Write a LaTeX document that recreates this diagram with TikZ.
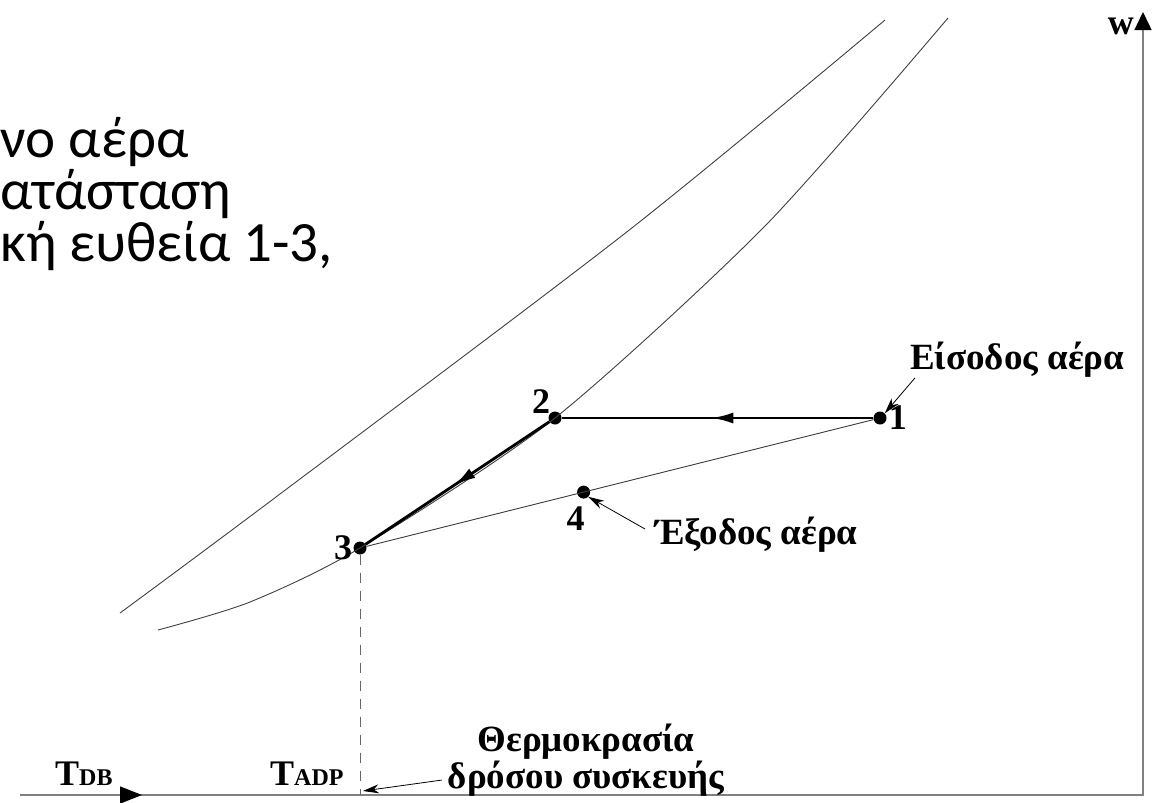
\documentclass[tikz,border=0pt]{standalone}
\usepackage{fontspec}
\setmainfont{Liberation Serif}
\newfontfamily\slidefont{Carlito}
\usetikzlibrary{arrows.meta, positioning, calc, decorations.markings}

\begin{document}
\begin{tikzpicture}[
    x=1pt, y=-1pt,
    node distance=4pt,
    >={Latex[length=22pt,width=11pt]},
    dot/.style={circle, fill, inner sep=0pt, minimum size=13pt},
    numlbl/.style={font=\bfseries\fontsize{36}{36}\selectfont, inner sep=0pt},
    lbl/.style={font=\bfseries\fontsize{37}{32}\selectfont, inner sep=0pt, align=center},
    slide/.style={font=\slidefont\fontsize{57}{57}\selectfont, inner sep=0pt, anchor=base west},
    curve/.style={draw=black!75, line width=0.9pt},
    process/.style={line width=2.8pt, postaction={decorate},
      decoration={markings, mark=at position 0.52 with {\arrow{>}}}},
    axis/.style={draw=black!50, line width=1.4pt},
    pointer/.style={->, >={Stealth[length=16pt,width=9pt]}, line width=0.8pt}
  ]
    \path[fill=white, use as bounding box] (0,0) rectangle (1152,803);

    % slide text behind the chart
    \node[slide] (s1) at (0,157) {νο αέρα};
    \node[slide] (s2) at (0,209) {ατάσταση};
    \node[slide] (s3) at (0,261) {κή ευθεία 1-3,};

    % axes
    \coordinate (orig) at (20,795);
    \coordinate (corner) at (1143,795);
    \coordinate (wtop) at (1143,12);
    \draw[axis, -{Triangle[length=18pt,width=17pt,color=black]},
      postaction={decorate}, decoration={markings,
        mark=at position 122pt with {\arrow{Triangle[length=22pt,width=17pt,color=black]}}}]
      (orig) -- (corner) -- (wtop);
    \node[numlbl, below left=6pt and 9pt of wtop] (wlbl) {w};
    \node[anchor=base west, inner sep=0pt, font=\bfseries] (tdb) at (55,785)
      {\fontsize{36}{36}\selectfont T\fontsize{24}{24}\selectfont DB};

    % states
    \node[dot] (p1) at (880,418) {};
    \node[dot] (p2) at (555,418) {};
    \node[dot] (p3) at (360,548) {};
    \node[dot] (p4) at ($(p3)!0.43!(p1)$) {};

    % curves
    \draw[curve] plot[smooth] coordinates {(120,613) (272,500) (628,231) (885,20)};
    \draw[curve] plot[smooth, tension=0.45] coordinates {(158,630) (250,602) (p3.center) (p2.center) (765,226) (948,18)};

    \draw[curve] (p3) -- (p1);
    \draw[process] (p1) -- (p2);
    \draw[process] (p2) -- (p3);

    \node[numlbl, right=2pt of p1] (n1) {1};
    \node[numlbl, above left=0pt and 0pt of p2] (n2) {2};
    \node[numlbl, left=1pt of p3] (n3) {3};
    \node[numlbl, below=8pt of p4, xshift=-8pt] (n4) {4};

    % dew point of the coil
    \coordinate (tadp-pt) at (p3 |- orig);
    \draw[dashed, dash pattern=on 10pt off 8pt, draw=black!60, line width=0.9pt] (p3) -- (tadp-pt);
    \node[anchor=base west, inner sep=0pt, font=\bfseries] (tadp) at (270,785)
      {\fontsize{36}{36}\selectfont T\fontsize{24}{24}\selectfont ADP};

    % labels
    \node[lbl, anchor=west] (inlet) at (910,360) {Είσοδος αέρα};
    \node[lbl, anchor=west] (outlet) at (655,535) {Έξοδος αέρα};
    \node[lbl] (dew) at (586,760) {Θερμοκρασία\\δρόσου συσκευής};

    \draw[pointer] ([xshift=5pt]inlet.south west) -- (p1.north east);
    \draw[pointer] ([shift={(-10,-6)}]outlet.west) -- (p4.south east);
    \draw[pointer] ([shift={(-6,-16)}]dew.south west) -- ([shift={(3,-4)}]tadp-pt);
  \end{tikzpicture}
\end{document}
